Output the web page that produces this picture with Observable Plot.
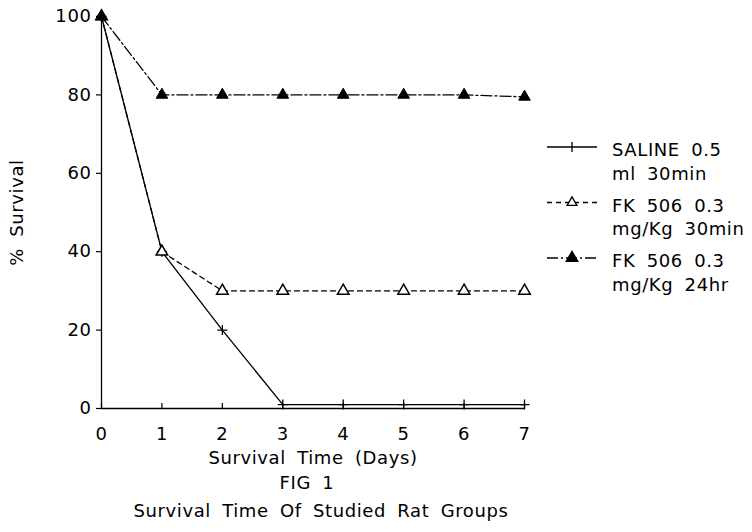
<!DOCTYPE html>
<html>
<head>
<meta charset="utf-8">
<script src="https://cdn.jsdelivr.net/npm/d3@7"></script>
<script src="https://cdn.jsdelivr.net/npm/@observablehq/plot@0.6"></script>
<style>
  html, body { margin: 0; padding: 0; background: #fff; }
  #wrap { position: relative; width: 752px; height: 532px; }
  #legend { position: absolute; left: 0; top: 0; pointer-events: none; }
  text { letter-spacing: 0.6px; word-spacing: 5px; }
</style>
</head>
<body>
<div id="wrap"></div>
<script>
// ---- data ----
const days = [0, 1, 2, 3, 4, 5, 6, 7];
const saline = [100, 40, 20, 1, 1, 1, 1, 1];
const fk30min = [100, 40, 30, 30, 30, 30, 30, 30];
const fk24hr = [100, 80, 80, 80, 80, 80, 80, 79.5];
const seriesKeys = ["saline", "fk30", "fk24"];
const legendLines = [["SALINE 0.5", "ml 30min"], ["FK 506 0.3", "mg/Kg 30min"], ["FK 506 0.3", "mg/Kg 24hr"]];
const yTicks = [0, 20, 40, 60, 80, 100];
const xTicks = days;
const xLabel = "Survival Time (Days)";
const yLabel = "% Survival";
const figLabel = "FIG 1";
const caption = "Survival Time Of Studied Rat Groups";

// ---- styles ----
const FONT = "'DejaVu Sans', sans-serif";
const dash = {saline: null, fk30: "5,4", fk24: "11,3,2,3"};
const plusSymbol = {
  draw(ctx, size) {
    const r = Math.sqrt(size / Math.PI);
    ctx.moveTo(-r, 0); ctx.lineTo(r, 0);
    ctx.moveTo(0, -r); ctx.lineTo(0, r);
  }
};
const rows = k => days.map((d, i) => ({day: d, value: ({saline, fk30: fk30min, fk24: fk24hr})[k][i]}));

const chart = Plot.plot({
  width: 752,
  height: 532,
  marginLeft: 101,
  marginRight: 228,
  marginTop: 16,
  marginBottom: 124,
  style: {fontFamily: FONT, fontSize: "18px", color: "#000", background: "#fff"},
  x: {domain: [0, 7]},
  y: {domain: [0, 100]},
  marks: [
    Plot.ruleX([0], {stroke: "#000", strokeWidth: 1.3}),
    Plot.ruleY([0], {stroke: "#000", strokeWidth: 1.3}),
    Plot.axisY({ticks: yTicks, tickSize: 5, tickPadding: 5, label: null, strokeWidth: 1.2, tickFormat: d3.format("d")}),
    Plot.axisX({ticks: xTicks, tickSize: 0, tickPadding: 19, label: null, tickFormat: d3.format("d")}),
    Plot.ruleX(xTicks, {x: d => d, y1: 0, y2: 1.3, stroke: "#000", strokeWidth: 1.2}),
    // series lines
    Plot.line(rows("saline"), {x: "day", y: "value", stroke: "#000", strokeWidth: 1.3}),
    Plot.line(rows("fk30"), {x: "day", y: "value", stroke: "#000", strokeWidth: 1.3, strokeDasharray: dash.fk30}),
    Plot.line(rows("fk24"), {x: "day", y: "value", stroke: "#000", strokeWidth: 1.3, strokeDasharray: dash.fk24}),
    // markers
    Plot.dot(rows("saline"), {x: "day", y: "value", symbol: plusSymbol, r: 5, stroke: "#000", fill: "none", strokeWidth: 1.3}),
    Plot.dot(rows("fk30"), {x: "day", y: "value", symbol: "triangle", r: 4.3, stroke: "#000", fill: "#fff", strokeWidth: 1.5}),
    Plot.dot(rows("fk24"), {x: "day", y: "value", symbol: "triangle", r: 4.3, stroke: "#000", fill: "#000", strokeWidth: 1}),
    // labels
    Plot.text([yLabel], {frameAnchor: "left", textAnchor: "middle", rotate: -90, dx: -84, text: d => d}),
    Plot.text([xLabel], {frameAnchor: "bottom", dy: 55, text: d => d}),
    Plot.text([figLabel], {frameAnchor: "bottom", dy: 80, dx: -6, text: d => d}),
    Plot.text([caption], {frameAnchor: "bottom", dy: 108, dx: 8, text: d => d})
  ]
});
document.getElementById("wrap").appendChild(chart);

// ---- legend (right side) ----
const leg = d3.select("#wrap").append("svg")
  .attr("id", "legend").attr("width", 752).attr("height", 532)
  .style("font-family", FONT).style("font-size", "18px");
seriesKeys.forEach((k, i) => {
  const y = 147 + i * 55.5;
  const g = leg.append("g");
  g.append("line").attr("x1", 547).attr("x2", 597).attr("y1", y).attr("y2", y)
    .attr("stroke", "#000").attr("stroke-width", 1.3)
    .attr("stroke-dasharray", dash[k]);
  if (k === "saline") {
    g.append("line").attr("x1", 572).attr("x2", 572).attr("y1", y - 5).attr("y2", y + 5)
      .attr("stroke", "#000").attr("stroke-width", 1.3);
  } else {
    g.append("path").attr("transform", `translate(572,${y})`)
      .attr("d", d3.symbol(d3.symbolTriangle, k === "fk30" ? 42 : 58)())
      .attr("fill", k === "fk30" ? "#fff" : "#000").attr("stroke", "#000").attr("stroke-width", 1.3);
  }
  legendLines[i].forEach((t, j) => {
    g.append("text").attr("x", 612).attr("y", y + 9 + j * 23.5).text(t);
  });
});
</script>
</body>
</html>
